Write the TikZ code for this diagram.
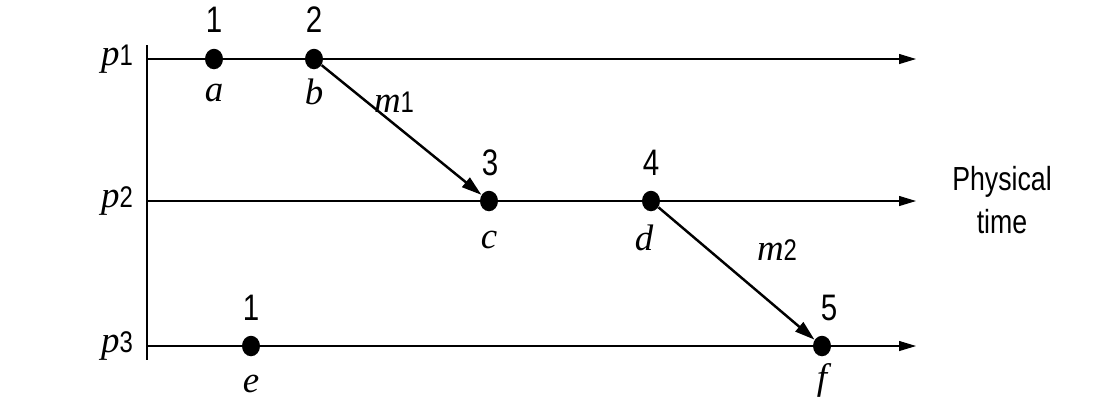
\documentclass[tikz,border=0pt]{standalone}
\usepackage{fontspec}
\setmainfont{Liberation Serif}
\newfontfamily\narrowsf[FakeStretch=0.8]{Liberation Sans}
\usetikzlibrary{arrows.meta,shapes.geometric}
\newcommand{\idx}[2]{\textit{#1}{\narrowsf\fontsize{17}{18}\selectfont #2}}
\tikzset{
  event/.style={ellipse,fill,inner sep=0pt,minimum width=3.6mm,minimum height=4.1mm},
  stamp/.style={font=\narrowsf\fontsize{21}{24}\selectfont,inner sep=0pt},
  evlabel/.style={font=\itshape\fontsize{21}{22}\selectfont,inner sep=0pt},
  procline/.style={line width=0.6pt,-{Triangle[length=3.4mm,width=2mm]}},
  msg/.style={line width=1.4pt,-{Triangle[length=4mm,width=2.4mm]}}
}
\begin{document}
\begin{tikzpicture}[x=0.02cm,y=-0.02cm]
\useasboundingbox (0,0) rectangle (1104,414);
% processes
\coordinate (top) at (147,45);
\coordinate (bottom) at (147,360);
\draw[line width=0.6pt] (top)--(bottom);
\foreach \p/\y in {1/59,2/201,3/346}{
  \coordinate (s\p) at (147,\y);
  \coordinate (t\p) at (916,\y);
  \draw[procline] (s\p)--(t\p);
  \node[font=\fontsize{21}{22}\selectfont,inner sep=0pt] (p\p) at (117,\y) {\idx{p}{\p}};
}
% events
\node[event] (a) at (214,59) {};
\node[event] (b) at (314,59) {};
\node[event] (c) at (489,201) {};
\node[event] (d) at (651,201) {};
\node[event] (e) at (251,346) {};
\node[event] (f) at (822,346) {};
% clock values
\node[stamp] (ca) at (214,20) {1};
\node[stamp] (cb) at (314,20) {2};
\node[stamp] (cc) at (490,163) {3};
\node[stamp] (cd) at (651,163) {4};
\node[stamp] (ce) at (251,308) {1};
\node[stamp] (cf) at (829,308) {5};
% event names
\node[evlabel] (la) at (214,93) {a};
\node[evlabel] (lb) at (314,92) {b};
\node[evlabel] (lc) at (489,240) {c};
\node[evlabel] (ld) at (644,238) {d};
\node[evlabel] (le) at (251,384) {e};
\node[evlabel] (lf) at (822,380) {f};
% messages
\draw[msg] (b)--(c);
\draw[msg] (d)--(f);
\node[font=\fontsize{21}{22}\selectfont,inner sep=0pt] (m1) at (394,102) {\idx{m}{1}};
\node[font=\fontsize{21}{22}\selectfont,inner sep=0pt] (m2) at (777,250) {\idx{m}{2}};
\node[stamp,align=center,font=\narrowsf\fontsize{19}{24}\selectfont] (phys) at (1002,200) {Physical\\time};
\end{tikzpicture}
\end{document}
